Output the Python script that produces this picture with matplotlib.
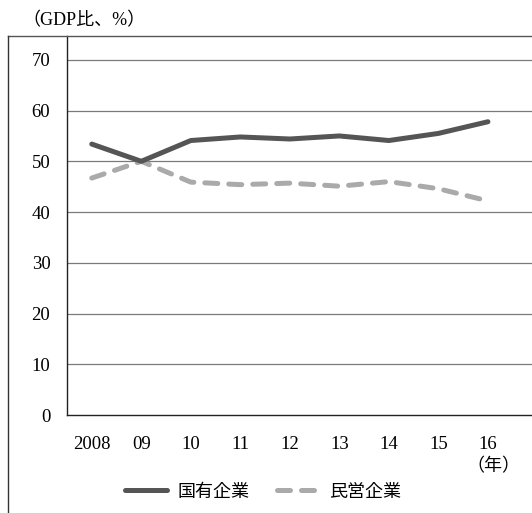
import matplotlib
matplotlib.use("Agg")
import matplotlib.pyplot as plt
from matplotlib.lines import Line2D

plt.rcParams['font.family'] = ['Liberation Serif', 'Noto Sans CJK JP']

years = [2008, 2009, 2010, 2011, 2012, 2013, 2014, 2015, 2016]
year_labels = ["2008", "09", "10", "11", "12", "13", "14", "15", "16"]
state_owned = [53.4, 50.0, 54.1, 54.8, 54.4, 55.0, 54.1, 55.5, 57.8]
private = [46.7, 50.0, 45.9, 45.4, 45.7, 45.1, 46.0, 44.6, 42.2]
yticks = [0, 10, 20, 30, 40, 50, 60, 70]

W, H = 532, 513
fig = plt.figure(figsize=(W / 100, H / 100), dpi=100)
ax = fig.add_axes([67 / W, 1 - 415 / H, (W - 67) / W, (415 - 36) / H])

for y in yticks[1:]:
    ax.axhline(y, color="#7a7a7a", lw=0.9, zorder=1)

ax.plot(years, state_owned, color="#555555", lw=3.6, solid_capstyle="round",
        solid_joinstyle="round", zorder=3, label="国有企業")
ax.plot(years, private, color="#aaaaaa", lw=3.6, dashes=(2.6, 2.2),
        dash_capstyle="round", zorder=2, label="民営企業")

ax.set_xlim(2007.5, 2016.89)
ax.set_ylim(0, 74.7)
ax.set_yticks(yticks)
ax.set_yticklabels([str(v) for v in yticks], fontsize=13.5)
ax.set_xticks(years)
ax.set_xticklabels(year_labels, fontsize=13.5)
ax.tick_params(length=0)
ax.tick_params(axis="x", pad=15)
ax.tick_params(axis="y", pad=12)
for s in ["top", "right"]:
    ax.spines[s].set_visible(False)
for s in ["left", "bottom"]:
    ax.spines[s].set_color("#222222")
    ax.spines[s].set_linewidth(1.0)

# outer frame
fig.add_artist(Line2D([8 / W, 1], [1 - 36 / H, 1 - 36 / H], color="#555555", lw=1.0))
fig.add_artist(Line2D([8 / W, 8 / W], [0, 1 - 36 / H], color="#333333", lw=1.0))

fig.text(22 / W, 1 - 21 / H, "（GDP比、%）", fontsize=13, va="center", ha="left")
fig.text(493 / W, 1 - 467 / H, "（年）", fontsize=13, va="center", ha="center")

handles = [
    Line2D([], [], color="#555555", lw=3.6, solid_capstyle="round"),
    Line2D([], [], color="#aaaaaa", lw=3.6, dashes=(2.6, 2.2), dash_capstyle="round"),
]
fig.legend(handles, ["国有企業", "民営企業"], loc="center",
           bbox_to_anchor=(263 / W, 1 - 492 / H), ncol=2, frameon=False,
           fontsize=13, handlelength=2.3, columnspacing=1.5, handletextpad=0.6)

fig.savefig("out.png", dpi=100)
